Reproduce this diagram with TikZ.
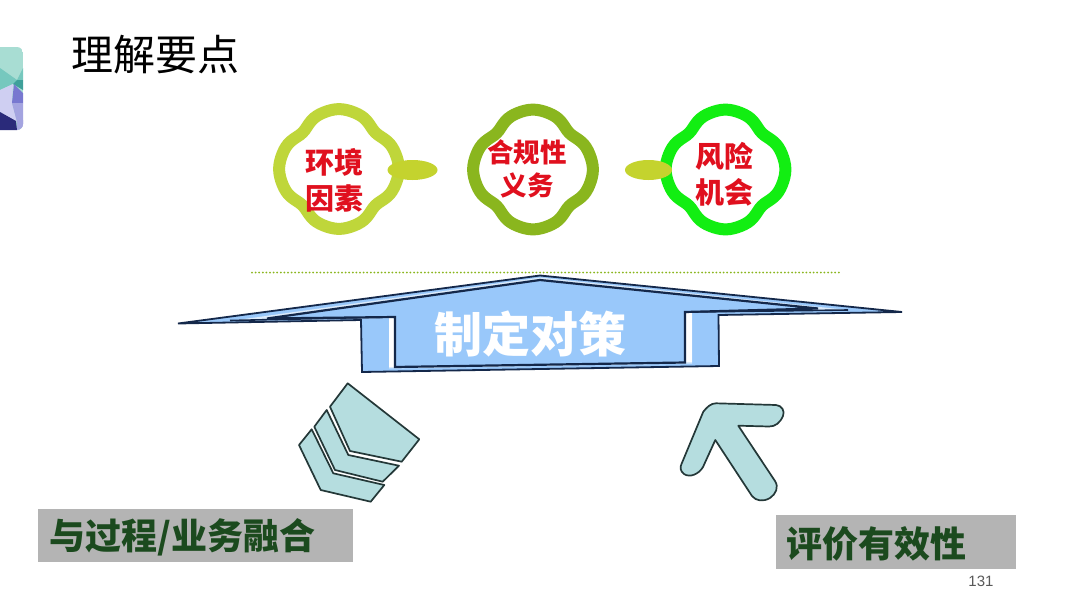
\documentclass[tikz,border=0pt]{standalone}
\usepackage{fontspec}
\newfontfamily\cjk{Noto Sans CJK SC}
\setmainfont{Liberation Sans}
\definecolor{blobA}{HTML}{BFD63A}
\definecolor{blobB}{HTML}{8AB61E}
\definecolor{blobC}{HTML}{12EE12}
\definecolor{petal}{HTML}{C4D32E}
\definecolor{capblue}{HTML}{99C8FA}
\definecolor{capstrip}{HTML}{DCEBFB}
\definecolor{navy}{HTML}{14284A}
\definecolor{mint}{HTML}{B5DDDF}
\definecolor{edge}{HTML}{243838}
\definecolor{labelgrey}{HTML}{B4B4B4}
\definecolor{labelgreen}{HTML}{1B4A1E}
\definecolor{textred}{HTML}{E0101E}
\definecolor{logoA}{HTML}{A8DDD3}
\definecolor{logoB}{HTML}{76C8BE}
\definecolor{logoC}{HTML}{3FA09A}
\definecolor{logoD}{HTML}{CFCFF2}
\definecolor{logoE}{HTML}{7878D0}
\definecolor{logoF}{HTML}{A4A4E0}
\definecolor{logoG}{HTML}{2A2A7A}
\usetikzlibrary{shapes.geometric}
\tikzset{
  x=1pt,y=-1pt,
  blobtext/.style={font=\cjk\bfseries\fontsize{#1}{#1}\selectfont,text=textred,inner sep=0pt},
  petalshape/.style={fill=petal,draw=none,ellipse,minimum width=50pt,minimum height=20pt,inner sep=0pt},
  mintshape/.style={fill=mint,draw=edge,line width=1.7pt,line join=round},
  capoutline/.style={fill=capblue,draw=navy,line width=1.8pt,line join=miter},
  tagbox/.style={fill=labelgrey,draw=none,inner sep=0pt},
  tagtext/.style={font=\cjk\bfseries\fontsize{#1}{#1}\selectfont,text=labelgreen,inner sep=0pt,anchor=west},
}
\newcommand{\cloverblob}[3]{%
  \draw[#3,line width=12pt,fill=white] plot[smooth cycle,samples=96,domain=0:356.25,variable=\t]
    ({#1+(56.6+3.8*cos(4*\t)-0.9*cos(8*\t)+0.4*cos(12*\t))*cos(\t)},{#2+(56.6+3.8*cos(4*\t)-0.9*cos(8*\t)+0.4*cos(12*\t))*sin(\t)});
}
\begin{document}
\begin{tikzpicture}
\useasboundingbox (0,0) rectangle (1080,608);
\fill[white] (0,0) rectangle (1080,608);
% logo
\begin{scope}
\clip[rounded corners=6pt] (-12,47) rectangle (23,130);
\fill[logoA] (-12,47) rectangle (23,130);
\fill[logoB] (0,68) -- (17,80) -- (23,68) -- (23,80) -- (13,84) -- (0,90) -- cycle;
\fill[logoC] (17,80) -- (23,80) -- (23,90) -- (13,84) -- cycle;
\fill[logoD] (0,90) -- (13,84) -- (12,103) -- (17,122) -- (0,112) -- cycle;
\fill[logoE] (14,84) -- (23,93) -- (23,103) -- (12,103) -- cycle;
\fill[logoF] (12,103) -- (23,103) -- (23,130) -- (17,122) -- cycle;
\fill[logoF] (17,122) -- (23,120) -- (23,130) -- (17,130) -- cycle;
\fill[logoG] (0,112) -- (16,121) -- (17,130) -- (0,130) -- cycle;
\end{scope}
\node[font=\cjk\fontsize{42}{42}\selectfont,inner sep=0pt] (title) at (155.5,55) {理解要点};
% clovers
\cloverblob{339}{169}{blobA}
\cloverblob{533}{169.5}{blobB}
\cloverblob{725.5}{169.5}{blobC}
\node[petalshape] (petalA) at (412.5,170) {};
\node[petalshape,minimum width=47pt] (petalB) at (648.5,170) {};
\node[blobtext=29,align=center] (envtext) at (334,180) {环境\\[7pt]因素};
\node[blobtext=26.5,align=center] (comptext) at (527,169) {合规性\\[7pt]义务};
\node[blobtext=29,align=center] (risktext) at (724,174) {风险\\[7pt]机会};
% dotted separator
\coordinate (sepL) at (252,272.5);
\coordinate (sepR) at (839,272.5);
\draw[blobB,line width=2pt,line cap=round,dash pattern=on 0pt off 3.6pt] (sepL) -- (sepR);
% cap-shaped arrow
\draw[capoutline] (178,323.5) -- (540,275.5) -- (902,312) -- (718.5,315) -- (719,366) -- (362,372) -- (361,320) -- cycle;
\fill[capstrip] (230,321) -- (540,277.5) -- (848,310) -- (692,312) -- (692,363.5) -- (389,368.5) -- (389,318) -- cycle;
\draw[navy,line width=1.6pt] (230,320.5) -- (389,317);
\draw[navy,line width=1.6pt] (692,312) -- (848,310);
\fill[white] (389,317.5) rectangle (395,367);
\fill[white] (685,312.5) rectangle (692,362);
\draw[capoutline,line width=2.2pt] (267,318.5) -- (540,280) -- (818,308.5) -- (685,312) -- (685,362.5) -- (395,367) -- (395,317) -- cycle;
\node[font=\cjk\bfseries\fontsize{48}{48}\selectfont,text=white,inner sep=0pt] (captext) at (530,334) {制定对策};
% chevron stack
\draw[mintshape] (347.7,383.3) -- (419.3,439.3) -- (401.7,461.7) -- (350,451) -- (330,406.7) -- cycle;
\draw[mintshape] (326.7,410) -- (348.3,455) -- (399,465.7) -- (382.7,481.7) -- (335,470) -- (314.3,426.7) -- cycle;
\draw[mintshape] (311.7,429.3) -- (333.3,473.3) -- (384.3,485) -- (370.7,501.7) -- (320.7,490) -- (299,445) -- cycle;
% up-left arrow
\draw[mintshape] (703.3,411.7) .. controls (707,407) and (711,403.3) .. (716,403.3)
  -- (776,405) .. controls (782,405.5) and (785,411) .. (783,416)
  .. controls (780,423) and (775,426.7) .. (769,426.5)
  -- (738.3,425.7) -- (775,481) .. controls (779,487) and (776,494) .. (770,498)
  .. controls (763,502) and (756,501) .. (752,496)
  -- (715.3,440) -- (703,467) .. controls (699,474) and (690,478) .. (684,474)
  .. controls (680,471) and (680,467) .. (681.5,464) -- cycle;
% labels
\node[tagbox,minimum width=315pt,minimum height=53pt] (leftbox) at (195.5,535.5) {};
\node[tagtext=36] (lefttext) at (49,537.5) {与过程/业务融合};
\node[tagbox,minimum width=240pt,minimum height=54pt] (rightbox) at (896,542) {};
\node[tagtext=36] (righttext) at (786,544) {评价有效性};
\node[font=\fontsize{15}{15}\selectfont,text=black!65,inner sep=0pt] (pageno) at (981,581) {131};
\end{tikzpicture}
\end{document}
